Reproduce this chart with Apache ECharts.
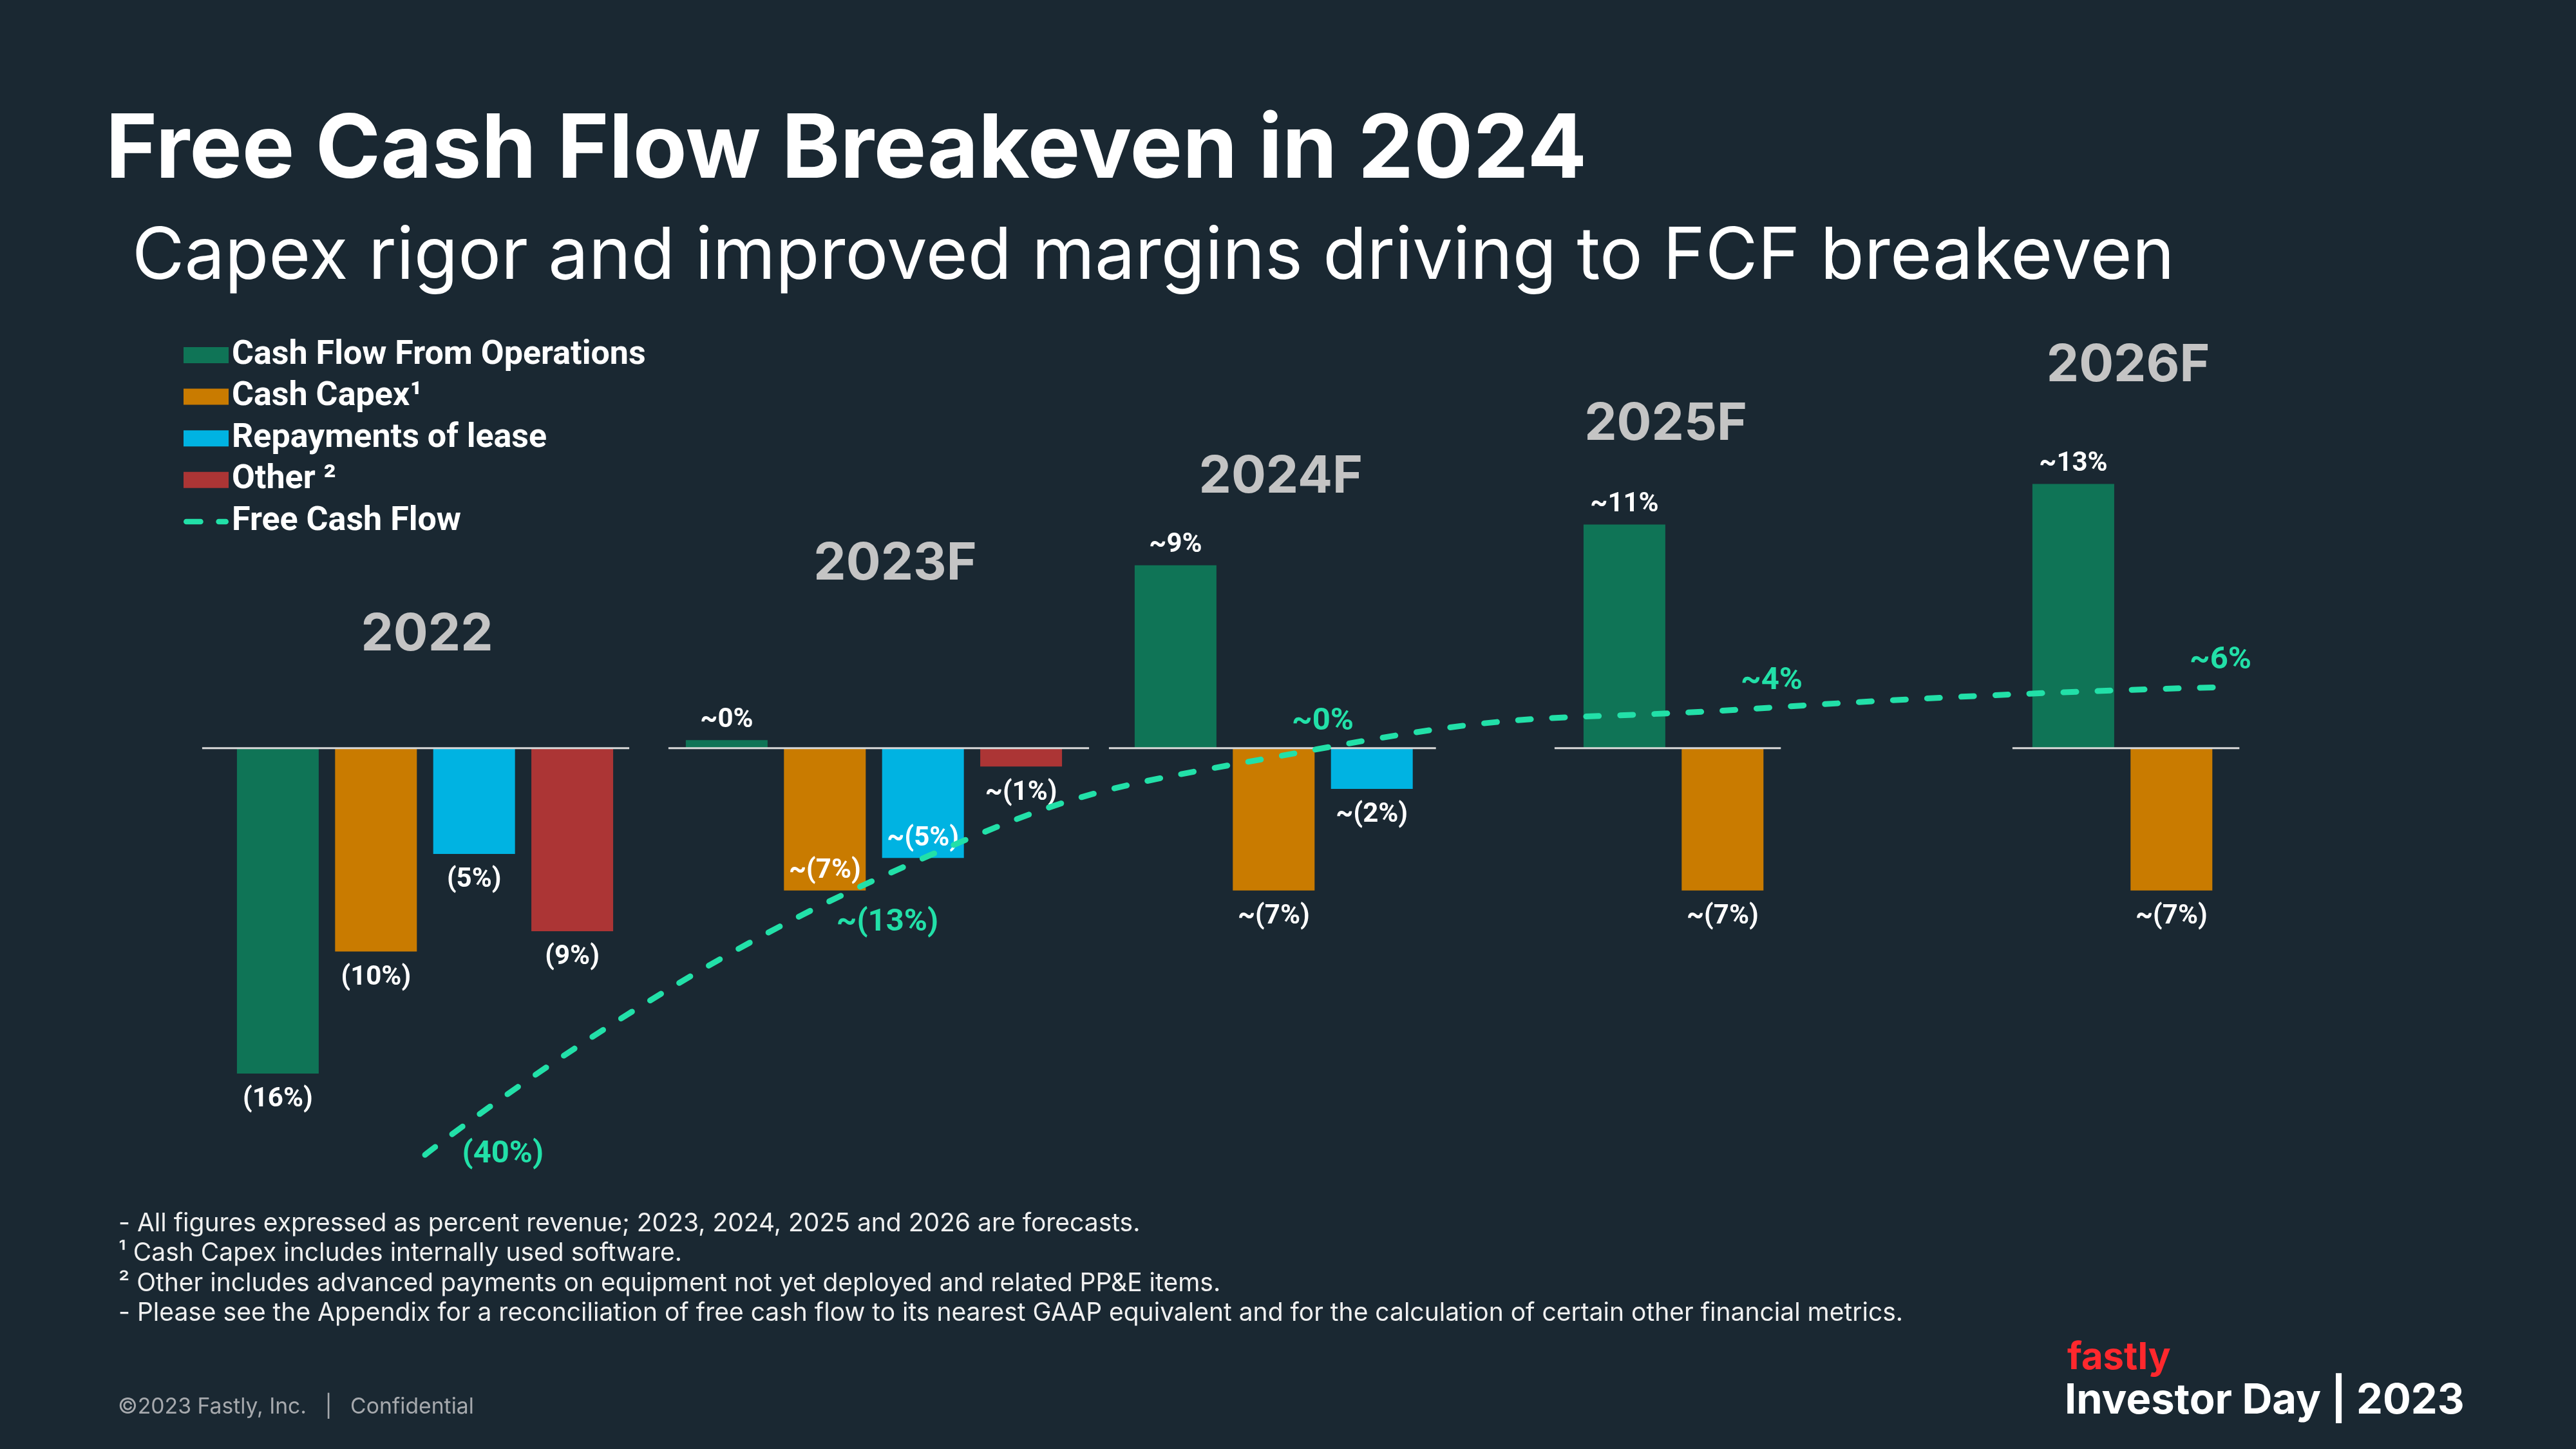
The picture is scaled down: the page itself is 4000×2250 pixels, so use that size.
<!DOCTYPE html>
<html>
<head>
<meta charset="utf-8">
<script src="https://cdn.jsdelivr.net/npm/echarts@6/dist/echarts.min.js"></script>
<style>
html,body{margin:0;padding:0;background:#1a2832;}
#c{width:4000px;height:2250px;}
</style>
</head>
<body>
<div id="c"></div>
<script>
// ---------------- data ----------------
const YEARS = ['2022', '2023F', '2024F', '2025F', '2026F'];
const FORECAST = [false, true, true, true, true];
const CFO   = [-16, 0.4, 9, 11, 13];          // Cash Flow From Operations
const CAPEX = [-10, -7, -7, -7, -7];          // Cash Capex
const LEASE = [-5.2, -5.4, -2, null, null];   // Repayments of lease
const OTHER = [-9, -0.9, null, null, null];   // Other
const FCF   = [-40, -13, 0, 4, 6];            // Free Cash Flow
const NAMES = ['Cash Flow From Operations', 'Cash Capex\u00B9', 'Repayments of lease', 'Other \u00B2', 'Free Cash Flow'];

// ---------------- layout / style ----------------
const COLORS = ['#0f7456', '#c97b00', '#00b3e2', '#ac3535', '#22e0a8'];
const BG = '#1a2832';
const BAR_W = 127;
const GAP_RATIO = 0.2;
const BASE_EXT_L = [54, 27, 40, 45, 31];
const BASE_EXT_R = [25, 42, 36, 27, 42];
const YEAR_RISE = [176, 286, 421, 503, 594];
const YEAR_DX = [3, 33, 11, -12, 9];
const FCF_LABEL = [
  {position: 'right', distance: 57},
  {position: 'bottom', distance: 41, offset: [21, 0]},
  {position: 'top', distance: 16},
  {position: 'top', distance: 16},
  {position: 'top', distance: 16}
];
const INSIDE_LABEL = {1: [1], 2: [1]}; // series index -> data indices with label inside bar bottom

function fmt(v, fc) {
  const r = Math.round(Math.abs(v));
  const s = (v < 0 && r > 0) ? '(' + r + '%)' : r + '%';
  return (fc ? '~' : '') + s;
}

const barLabel = {show: true, position: 'outside', distance: 15, offset: [0, 5], color: '#ffffff',
  fontFamily: 'Roboto', fontWeight: 'bold', fontSize: 42};

function barSeries(idx, values) {
  return {
    type: 'bar', name: NAMES[idx], xAxisIndex: 0, yAxisIndex: 0,
    barWidth: BAR_W, barGap: (GAP_RATIO * 100) + '%',
    itemStyle: {color: COLORS[idx]},
    label: barLabel,
    z: 2,
    data: values.map((v, i) => {
      if (v == null) return '-';
      const item = {value: v, label: {formatter: fmt(v, FORECAST[i])}};
      if ((INSIDE_LABEL[idx] || []).indexOf(i) >= 0) {
        item.label.position = 'insideBottom';
        item.label.distance = 14;
      }
      return item;
    })
  };
}

const barSets = [CFO, CAPEX, LEASE, OTHER];

const chart = echarts.init(document.getElementById('c'), null, {renderer: 'canvas'});

const option = {
  backgroundColor: BG,
  animation: false,
  title: [
    {text: 'Free Cash Flow Breakeven in 2024', left: 164, top: 166, padding: 0,
      textStyle: {color: '#ffffff', fontFamily: 'Inter', fontWeight: 'bold', fontSize: 137}},
    {text: 'Capex rigor and improved margins driving to FCF breakeven', left: 205, top: 343, padding: 0,
      textStyle: {color: '#ffffff', fontFamily: 'Inter', fontWeight: 'normal', fontSize: 111.5}},
    {text: '- All figures expressed as percent revenue; 2023, 2024, 2025 and 2026 are forecasts.\n' +
           '\u00B9 Cash Capex includes internally used software.\n' +
           '\u00B2 Other includes advanced payments on equipment not yet deployed and related PP&E items.\n' +
           '- Please see the Appendix for a reconciliation of free cash flow to its nearest GAAP equivalent and for the calculation of certain other financial metrics.',
      left: 184, top: 1877, padding: 0,
      textStyle: {color: '#f0f0f0', fontFamily: 'Inter', fontWeight: 'normal', fontSize: 39, lineHeight: 46.5}},
    {text: '\u00A92023 Fastly, Inc.   |   Confidential', left: 183, top: 2168, padding: 0,
      textStyle: {color: '#a6a9ad', fontFamily: 'Inter', fontWeight: 'normal', fontSize: 33.7}},
    {text: 'fastly', left: 3210, top: 2080, padding: 0,
      textStyle: {color: '#ff282d', fontFamily: 'Inter', fontWeight: 'bold', fontSize: 58}},
    {text: 'Investor Day | 2023', left: 3206, top: 2143, padding: 0,
      textStyle: {color: '#ffffff', fontFamily: 'Inter', fontWeight: 'bold', fontSize: 65}}
  ],
  legend: {
    orient: 'vertical', left: 285, top: 525.5, padding: 0,
    itemWidth: 70, itemHeight: 25, itemGap: 12.6,
    selectedMode: false,
    textStyle: {color: '#ffffff', fontFamily: 'Roboto', fontWeight: 'bold', fontSize: 52, lineHeight: 50},
    data: [
      {name: NAMES[0], icon: 'rect'},
      {name: NAMES[1], icon: 'rect'},
      {name: NAMES[2], icon: 'rect'},
      {name: NAMES[3], icon: 'rect'},
      {name: NAMES[4],
        icon: 'path://M0,0L0,0M-4,7.5h26a5,5 0 0 1 0,10h-26a5,5 0 0 1 0,-10zM55,7.5h13a5,5 0 0 1 0,10h-13a5,5 0 0 1 0,-10zM70,25L70,25',
        itemStyle: {color: COLORS[4], borderWidth: 0}}
    ]
  },
  grid: {left: 311.5, right: 203.5, top: 530.4, bottom: 456.8, containLabel: false},
  xAxis: [{type: 'category', data: YEARS, show: false, boundaryGap: true}],
  yAxis: [
    {type: 'value', min: -20, max: 20, show: false, splitLine: {show: false}},
    {type: 'value', min: -40, max: 40, show: false, splitLine: {show: false}}
  ],
  series: [
    barSeries(0, CFO),
    barSeries(1, CAPEX),
    barSeries(2, LEASE),
    barSeries(3, OTHER),
    {
      type: 'custom', name: 'baselines', coordinateSystem: 'cartesian2d', xAxisIndex: 0, yAxisIndex: 0,
      silent: true, z: 3,
      data: YEARS.map((y, i) => [i, 0]),
      renderItem: function (params, api) {
        const i = api.value(0);
        const c = api.coord([i, 0]);
        const gap = BAR_W * GAP_RATIO;
        const total = 4 * BAR_W + 3 * gap;
        const n = barSets.filter(a => a[i] != null).length;
        const left = c[0] - total / 2;
        const right = left + n * BAR_W + (n - 1) * gap;
        return {
          type: 'group',
          children: [
            {type: 'line', shape: {x1: left - BASE_EXT_L[i], y1: c[1], x2: right + BASE_EXT_R[i], y2: c[1]},
              style: {stroke: '#d8d8d8', lineWidth: 3}},
            {type: 'text', x: (left + right) / 2 + YEAR_DX[i], y: c[1] - YEAR_RISE[i],
              style: {text: YEARS[i], fill: '#c4c4c4', fontFamily: 'Inter', fontWeight: 'bold', fontSize: 80,
                align: 'center', verticalAlign: 'middle'}}
          ]
        };
      }
    },
    {
      type: 'line', name: NAMES[4], xAxisIndex: 0, yAxisIndex: 1, z: 4,
      smooth: 0.5, clip: false,
      symbol: 'circle', symbolSize: 1,
      itemStyle: {color: 'rgba(0,0,0,0)'},
      lineStyle: {color: COLORS[4], width: 9, type: [20, 33], cap: 'round'},
      label: {show: true, color: COLORS[4], fontFamily: 'Roboto', fontWeight: 'bold', fontSize: 49},
      data: FCF.map((v, i) => ({value: v, label: Object.assign({formatter: fmt(v, FORECAST[i])}, FCF_LABEL[i])}))
    }
  ]
};
chart.setOption(option);
</script>
</body>
</html>
